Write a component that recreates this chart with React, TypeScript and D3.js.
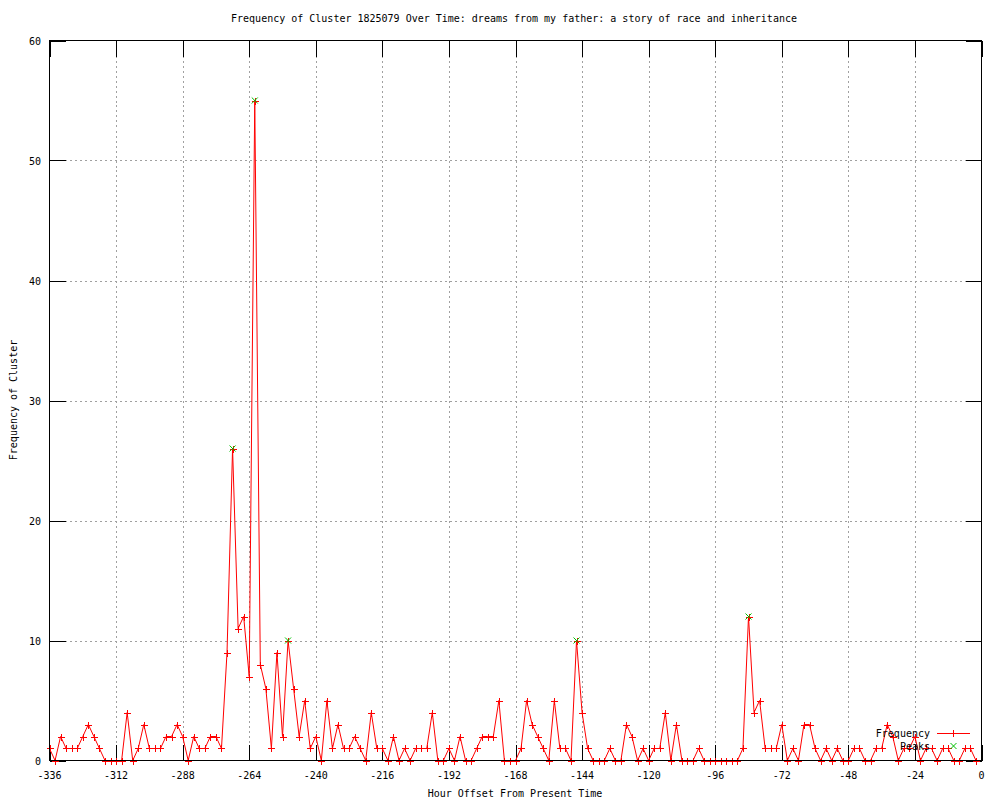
import React from "react";
import * as d3 from "d3";

const hours: number[] = [
  -336, -334, -332, -330, -328, -326, -324, -322, -320, -318,
  -316, -314, -312, -310, -308, -306, -304, -302, -300, -298,
  -296, -294, -292, -290, -288, -286, -284, -282, -280, -278,
  -276, -274, -272, -270, -268, -266, -264, -262, -260, -258,
  -256, -254, -252, -250, -248, -246, -244, -242, -240, -238,
  -236, -234, -232, -230, -228, -226, -224, -222, -220, -218,
  -216, -214, -212, -210, -208, -206, -204, -202, -200, -198,
  -196, -194, -192, -190, -188, -186, -184, -182, -180, -178,
  -176, -174, -172, -170, -168, -166, -164, -162, -160, -158,
  -156, -154, -152, -150, -148, -146, -144, -142, -140, -138,
  -136, -134, -132, -130, -128, -126, -124, -122, -120, -118,
  -116, -114, -112, -110, -108, -106, -104, -102, -100, -98,
  -96, -94, -92, -90, -88, -86, -84, -82, -80, -78,
  -76, -74, -72, -70, -68, -66, -64, -62, -60, -58,
  -56, -54, -52, -50, -48, -46, -44, -42, -40, -38,
  -36, -34, -32, -30, -28, -26, -24, -22, -20, -18,
  -16, -14, -12, -10, -8, -6, -4, -2,
];

const frequency: number[] = [
  1, 0, 2, 1, 1, 1, 2, 3, 2, 1,
  0, 0, 0, 0, 4, 0, 1, 3, 1, 1,
  1, 2, 2, 3, 2, 0, 2, 1, 1, 2,
  2, 1, 9, 26, 11, 12, 7, 55, 8, 6,
  1, 9, 2, 10, 6, 2, 5, 1, 2, 0,
  5, 1, 3, 1, 1, 2, 1, 0, 4, 1,
  1, 0, 2, 0, 1, 0, 1, 1, 1, 4,
  0, 0, 1, 0, 2, 0, 0, 1, 2, 2,
  2, 5, 0, 0, 0, 1, 5, 3, 2, 1,
  0, 5, 1, 1, 0, 10, 4, 1, 0, 0,
  0, 1, 0, 0, 3, 2, 0, 1, 0, 1,
  1, 4, 0, 3, 0, 0, 0, 1, 0, 0,
  0, 0, 0, 0, 0, 1, 12, 4, 5, 1,
  1, 1, 3, 0, 1, 0, 3, 3, 1, 0,
  1, 0, 1, 0, 0, 1, 1, 0, 0, 1,
  1, 3, 2, 0, 1, 1, 2, 0, 1, 1,
  0, 1, 1, 0, 0, 1, 1, 0,
];

const peakHours: number[] = [-270, -262, -250, -146, -84];
const peakValues: number[] = [26, 55, 10, 10, 12];

const xTicks: number[] = [-336, -312, -288, -264, -240, -216, -192, -168, -144, -120, -96, -72, -48, -24, 0];
const yTicks: number[] = [0, 10, 20, 30, 40, 50, 60];

const title = "Frequency of Cluster 1825079 Over Time: dreams from my father: a story of race and inheritance";
const xLabel = "Hour Offset From Present Time";
const yLabel = "Frequency of Cluster";
const seriesNames: string[] = ["Frequency", "Peaks"];

const W = 1000;
const H = 800;
const L = 49.5;
const R = 981.5;
const T = 40.5;
const B = 760.5;
const FONT = "'DejaVu Sans Mono', monospace";
const RED = "#ff0000";
const GREEN = "#00c000";
const TICK = 16;

export default function App() {
  const x = d3.scaleLinear().domain([-336, 0]).range([L, R]);
  const y = d3.scaleLinear().domain([0, 60]).range([B, T]);
  const pts = hours.map((h, i) => [h, frequency[i]] as [number, number]);
  const line = d3
    .line<[number, number]>()
    .x((d) => x(d[0]))
    .y((d) => y(d[1]));
  const plus = (cx: number, cy: number, c: string, k: string) => (
    <path
      key={k}
      d={`M${Math.round(cx) - 3},${Math.round(cy) + 0.5}h7M${Math.round(cx) + 0.5},${Math.round(cy) - 3}v7`}
      stroke={c}
      strokeWidth={1}
      fill="none"
    />
  );
  const cross = (cx: number, cy: number, c: string, k: string) => (
    <path
      key={k}
      d={`M${cx - 3},${cy - 3}L${cx + 3},${cy + 3}M${cx - 3},${cy + 3}L${cx + 3},${cy - 3}`}
      stroke={c}
      strokeWidth={1}
      fill="none"
    />
  );
  return (
    <svg
      width={W}
      height={H}
      style={{ position: "absolute", left: 0, top: 0, background: "#fff" }}
      fontFamily={FONT}
      fontSize={10}
    >
      <rect x={0} y={0} width={W} height={H} fill="#fff" />
      {/* grid */}
      <g stroke="#a0a0a0" strokeWidth={1} strokeDasharray="2,3" shapeRendering="crispEdges">
        {xTicks
          .filter((t) => t !== -336 && t !== 0)
          .map((t) => (
            <line key={"gx" + t} x1={Math.round(x(t)) + 0.5} x2={Math.round(x(t)) + 0.5} y1={T} y2={B} />
          ))}
        {yTicks
          .filter((t) => t !== 0 && t !== 60)
          .map((t) => (
            <line key={"gy" + t} x1={L} x2={R} y1={Math.round(y(t)) + 0.5} y2={Math.round(y(t)) + 0.5} />
          ))}
      </g>
      {/* ticks */}
      <g stroke="#000" strokeWidth={1} shapeRendering="crispEdges">
        {xTicks.map((t) => (
          <g key={"tx" + t}>
            <line x1={Math.round(x(t)) + 0.5} x2={Math.round(x(t)) + 0.5} y1={B} y2={B - TICK} />
            <line x1={Math.round(x(t)) + 0.5} x2={Math.round(x(t)) + 0.5} y1={T} y2={T + TICK} />
          </g>
        ))}
        {yTicks.map((t) => (
          <g key={"ty" + t}>
            <line x1={L} x2={L + TICK} y1={Math.round(y(t)) + 0.5} y2={Math.round(y(t)) + 0.5} />
            <line x1={R} x2={R - TICK} y1={Math.round(y(t)) + 0.5} y2={Math.round(y(t)) + 0.5} />
          </g>
        ))}
      </g>
      {/* data */}
      <path d={line(pts) || ""} stroke={RED} strokeWidth={1} fill="none" />
      {pts.map((d, i) => plus(x(d[0]), y(d[1]), RED, "p" + i))}
      {peakHours.map((h, i) => cross(x(h), y(peakValues[i]), GREEN, "k" + i))}
      {/* border */}
      <rect x={L} y={T} width={R - L} height={B - T} fill="none" stroke="#000" strokeWidth={1} shapeRendering="crispEdges" />
      {/* tick labels */}
      {xTicks.map((t) => (
        <text key={"lx" + t} x={x(t)} y={779} textAnchor="middle" fill="#000">
          {String(t)}
        </text>
      ))}
      {yTicks.map((t) => (
        <text key={"ly" + t} x={41} y={y(t) + 4} textAnchor="end" fill="#000">
          {t}
        </text>
      ))}
      {/* labels */}
      <text x={514} y={22} textAnchor="middle" fill="#000">{title}</text>
      <text x={515} y={797} textAnchor="middle" fill="#000">{xLabel}</text>
      <text x={17} y={400} textAnchor="middle" fill="#000" transform="rotate(-90 17 400)">{yLabel}</text>
      {/* legend */}
      <text x={930} y={737} textAnchor="end" fill="#000">{seriesNames[0]}</text>
      <line x1={937} x2={970} y1={733.5} y2={733.5} stroke={RED} strokeWidth={1} shapeRendering="crispEdges" />
      {plus(953, 733, RED, "lg1")}
      <text x={930} y={750} textAnchor="end" fill="#000">{seriesNames[1]}</text>
      {cross(953.5, 746, GREEN, "lg2")}
    </svg>
  );
}
